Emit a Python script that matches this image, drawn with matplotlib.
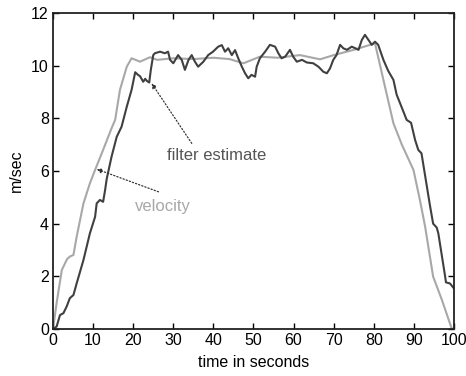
import matplotlib
matplotlib.use("Agg")
import matplotlib.pyplot as plt

plt.rcParams['font.family'] = ['Liberation Sans', 'DejaVu Sans']

# velocity (light gray)
vel_t = [0, 0.9, 2.2, 3.5, 4.2, 5.1, 5.9, 7.6, 9.2, 10.5, 12.5, 14.6, 15.5, 16.7, 18.4,
         19.6, 21.7, 24.2, 26, 30, 35, 40, 44, 47.5, 51.6, 56, 61.6, 66.6, 70, 75,
         79.1, 80.3, 82.4, 84.9, 87, 89.9, 91.5, 92.8, 94.8, 97, 99.4, 100]
vel_v = [0, 0.98, 2.24, 2.65, 2.75, 2.81, 3.5, 4.77, 5.53, 6.04, 6.8, 7.62, 7.94, 9.08, 9.96,
         10.28, 10.15, 10.32, 10.22, 10.28, 10.25, 10.3, 10.25, 10.09, 10.34, 10.3, 10.4, 10.24, 10.4, 10.6,
         10.79, 10.85, 9.46, 7.81, 7.0, 6.04, 4.9, 3.89, 1.99, 1.1, 0.03, 0]

# filter estimate (dark gray)
est_t = [0, 0.9, 1.75, 2.6, 3.4, 4.2, 5.1, 5.9, 7.6, 9.2, 10.5, 10.9, 11.7, 12.5, 13.0, 13.4,
         14.6, 15.9, 17.1, 18.4, 19.6, 20.5, 21.2, 21.7, 22.5, 23.0, 23.4, 24.0, 24.4, 25.0,
         25.4, 26.7, 27.9, 28.7, 29.2, 30.0, 31.2, 32.1, 32.9, 33.8, 34.6, 35.4, 36.2, 37.5,
         38.7, 39.9, 41.2, 42.1, 42.9, 43.7, 44.6, 45.4, 46.2, 47.1, 47.9, 48.7, 49.5, 50.4,
         50.8, 51.6, 52.9, 54.1, 55.4, 56.2, 57.0, 57.9, 59.1, 59.9, 60.8, 62.1, 63.3, 64.9,
         66.2, 67.4, 68.3, 69.1, 69.9, 70.7, 71.6, 72.4, 73.3, 74.5, 75.4, 76.2, 77.0, 77.8,
         78.7, 79.5, 80.3, 81.1, 82.4, 83.6, 84.9, 85.7, 87.4, 88.2, 89.3, 90.3, 91.1, 91.9,
         93.2, 94.0, 94.8, 95.7, 96.1, 97.8, 98.0, 99.0, 100]
est_v = [0, 0.09, 0.53, 0.6, 0.85, 1.17, 1.29, 1.73, 2.62, 3.63, 4.26, 4.77, 4.9, 4.83, 5.28, 5.7,
         6.54, 7.3, 7.68, 8.44, 9.08, 9.75, 9.65, 9.6, 9.39, 9.5, 9.42, 9.36, 9.84, 10.4,
         10.47, 10.53, 10.47, 10.53, 10.22, 10.09, 10.4, 10.22, 9.84, 10.22, 10.4, 10.15, 9.96, 10.15,
         10.4, 10.53, 10.72, 10.78, 10.53, 10.66, 10.4, 10.59, 10.28, 9.96, 9.71, 9.52, 9.65, 9.58,
         9.96, 10.28, 10.53, 10.79, 10.72, 10.47, 10.28, 10.34, 10.6, 10.34, 10.15, 10.22, 10.12, 10.09,
         9.96, 9.77, 9.71, 9.9, 10.22, 10.4, 10.79, 10.66, 10.6, 10.72, 10.66, 10.6, 10.97, 11.17,
         10.97, 10.79, 10.91, 10.79, 10.22, 9.8, 9.46, 8.9, 8.25, 7.94, 7.83, 7.18, 6.8, 6.67,
         5.45, 4.7, 4.0, 3.85, 3.63, 1.99, 1.77, 1.73, 1.54]

xticks = [0, 10, 20, 30, 40, 50, 60, 70, 80, 90, 100]
yticks = [0, 2, 4, 6, 8, 10, 12]

fig = plt.figure(figsize=(4.66, 3.76), dpi=100)
ax = fig.add_axes([0.1137, 0.125, 0.8605, 0.8405])

ax.plot(vel_t, vel_v, color='#a8a8a8', lw=1.5)
ax.plot(est_t, est_v, color='#404040', lw=1.5)

ax.set_xlim(0, 100)
ax.set_ylim(0, 12)
ax.set_xticks(xticks)
ax.set_yticks(yticks)
ax.tick_params(direction='in', top=True, right=True, length=4, width=1,
               labelsize=11.5, colors='black', pad=3)
for s in ax.spines.values():
    s.set_linewidth(1.3)
    s.set_color('#222222')

ax.set_xlabel('time in seconds', fontsize=11.5, labelpad=5)
ax.set_ylabel('m/sec', fontsize=11.5, labelpad=5)

ax.annotate('', xy=(24.6, 9.33), xytext=(34.6, 7.05),
            arrowprops=dict(arrowstyle='-|>', linestyle=':', color='#333333', lw=0.9,
                            shrinkA=0, shrinkB=0, mutation_scale=7))
ax.text(40.8, 6.57, 'filter estimate', color='#555555', fontsize=12, ha='center', va='center')

ax.annotate('', xy=(10.9, 6.07), xytext=(26.3, 5.21),
            arrowprops=dict(arrowstyle='-|>', linestyle=':', color='#333333', lw=0.9,
                            shrinkA=0, shrinkB=0, mutation_scale=7))
ax.text(27.4, 4.67, 'velocity', color='#a8a8a8', fontsize=12, ha='center', va='center')

fig.savefig('out.png', dpi=100)
